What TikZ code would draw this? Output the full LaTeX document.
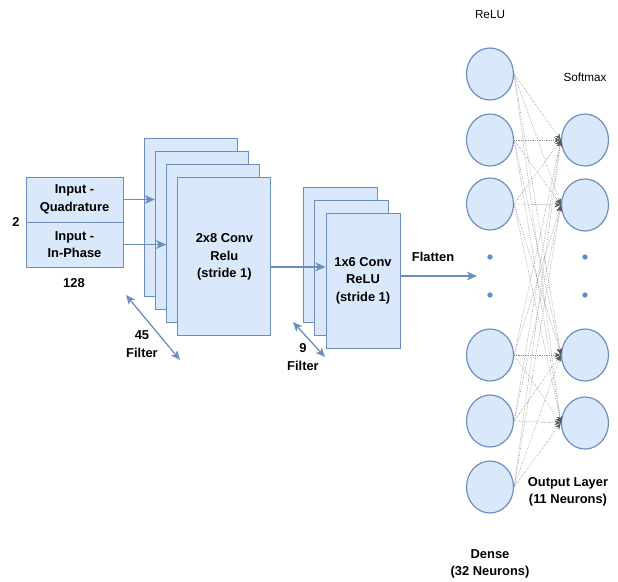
\documentclass[tikz,border=0pt]{standalone}
\usepackage{fontspec}
\setmainfont{Liberation Sans}
\usetikzlibrary{shapes,arrows,calc,positioning}
\usetikzlibrary{arrows.meta}

\definecolor{boxfill}{HTML}{DAE8FC}
\definecolor{boxline}{HTML}{6C8EBF}
\definecolor{dotblue}{HTML}{5B8FD0}

\begin{document}
\begin{tikzpicture}[x=0.3mm,y=-0.3mm]

  \tikzstyle{inbox} = [draw=boxline,fill=boxfill,line width=0.8pt,minimum width=29.1mm,minimum height=13.5mm,inner sep=0pt,align=center,font=\fontsize{11}{15}\selectfont\bfseries]
  \tikzstyle{convA} = [draw=boxline,fill=boxfill,line width=0.8pt,minimum width=27.9mm,minimum height=47.4mm,inner sep=0pt,align=center,font=\fontsize{11}{15}\selectfont\bfseries]
  \tikzstyle{convB} = [draw=boxline,fill=boxfill,line width=0.8pt,minimum width=22.2mm,minimum height=40.5mm,inner sep=0pt,align=center,font=\fontsize{11}{15}\selectfont\bfseries]
  \tikzstyle{neuron} = [ellipse,draw=boxline,fill=boxfill,line width=1pt,minimum width=14.1mm,minimum height=15.6mm]
  \tikzstyle{bluedot} = [circle,fill=dotblue,inner sep=0pt,minimum size=1.6mm]
  \tikzstyle{flow} = [draw=boxline,line width=1.1pt,-{Stealth[length=3mm,width=2.6mm,inset=0.8mm]}]
  \tikzstyle{filter} = [draw=boxline,line width=1.1pt,{Stealth[length=2.8mm,width=2.4mm,inset=0.7mm]}-{Stealth[length=2.8mm,width=2.4mm,inset=0.7mm]}]
  \tikzstyle{link} = [draw=black!45,densely dotted,line width=0.5pt,-{Stealth[length=2mm,width=1.5mm,black!65]}]
  \tikzstyle{lbl} = [inner sep=0pt,align=center,font=\fontsize{11}{15}\selectfont\bfseries]
  \tikzstyle{act} = [inner sep=0pt,font=\fontsize{10}{12}\selectfont]

  \useasboundingbox (0,0) rectangle (618,581);

  % input
  \node[inbox] (inQ) at (74.5,199.5) {Input -\\Quadrature};
  \node[inbox] (inI) at (74.5,244.5) {Input -\\In-Phase};
  \node[lbl] (dimA) at (16,222) {2};
  \node[lbl] (dimB) at (74,283) {128};

  % first conv stack
  \foreach \i in {0,...,3} {
    \node[convA] (convA\i) at (190.5+11.3*\i,217+13.3*\i) {};
  }
  \node[lbl] (convAtxt) at (convA3) {2x8 Conv\\Relu\\(stride 1)};

  % second conv stack
  \foreach \i in {0,...,2} {
    \node[convB] (convB\i) at (340+11.5*\i,254.5+13*\i) {};
  }
  \node[lbl] (convBtxt) at (convB2) {1x6 Conv\\ReLU\\(stride 1)};

  \draw[flow] (inQ.east) -- (convA1.west |- inQ.east);
  \draw[flow] (inI.east) -- (convA2.west |- inI.east);
  \draw[flow] ($(convA3.east)+(0,10)$) -- (convB2.west |- {$(convA3.east)+(0,10)$});

  \coordinate (flatEnd) at (477,276);
  \draw[flow] (convB2.east |- flatEnd) -- (flatEnd);
  \node[lbl] (flatTxt) at (433,257) {Flatten};

  % filter counts
  \coordinate (fA1) at (126,295);
  \coordinate (fA2) at (180,360);
  \draw[filter] (fA1) -- (fA2);
  \node[lbl] (fAtxt) at (142,344) {45\\Filter};

  \coordinate (fB1) at (293,322);
  \coordinate (fB2) at (325,357);
  \draw[filter] (fB1) -- (fB2);
  \node[lbl] (fBtxt) at (303,357) {9\\Filter};

  % dense layer
  \foreach \n/\y in {1/74,2/140,3/204,4/355,5/421,6/487} {
    \node[neuron] (d\n) at (490,\y) {};
  }
  \node[bluedot] (dDot1) at (490,257) {};
  \node[bluedot] (dDot2) at (490,295) {};

  % output layer
  \foreach \n/\y in {1/140,2/205,3/355,4/423} {
    \node[neuron] (o\n) at (585,\y) {};
  }
  \node[bluedot] (oDot1) at (585,257) {};
  \node[bluedot] (oDot2) at (585,295) {};

  \foreach \a in {1,...,6} {
    \foreach \b in {1,...,4} {
      \draw[link] (d\a.east) -- (o\b.west);
    }
  }

  \node[act] (reluTxt) at (490,15) {ReLU};
  \node[act] (softTxt) at (585,77) {Softmax};
  \node[lbl] (outTxt) at (568,492) {Output Layer\\(11 Neurons)};
  \node[lbl] (denseTxt) at (490,564) {Dense\\(32 Neurons)};

\end{tikzpicture}
\end{document}
